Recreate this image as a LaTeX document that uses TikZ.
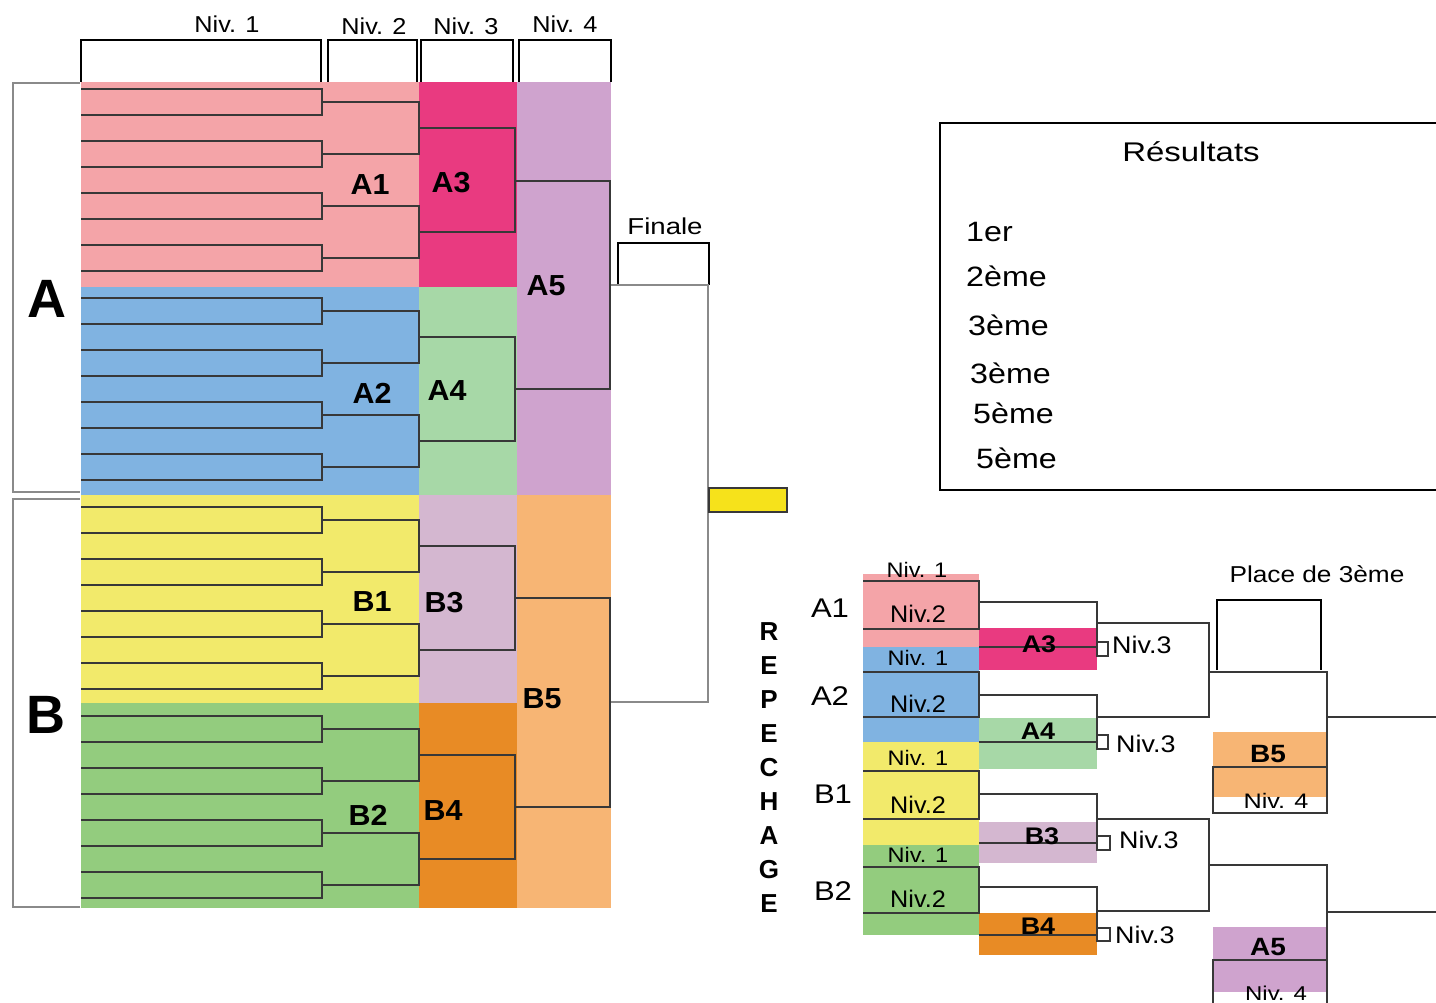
\documentclass[tikz,border=0pt]{standalone}
\usepackage{fontspec}
\setmainfont{Liberation Sans}
\usepackage{graphicx}
\definecolor{cpink}{HTML}{F4A4A8}
\definecolor{cblue}{HTML}{80B3E1}
\definecolor{cyel}{HTML}{F2EA6B}
\definecolor{cgreen}{HTML}{93CC7E}
\definecolor{cmag}{HTML}{E93A80}
\definecolor{clgreen}{HTML}{A7D8A7}
\definecolor{cmauve}{HTML}{D4B7D0}
\definecolor{corange}{HTML}{E88B25}
\definecolor{clilac}{HTML}{CFA3CE}
\definecolor{clorange}{HTML}{F7B574}
\definecolor{cbox}{HTML}{F6E21B}
\definecolor{ink}{HTML}{383838}
\definecolor{gline}{HTML}{8A8A8A}
\newcommand\sx[2]{\scalebox{#1}[1]{#2}}
\newcommand\fs[1]{\fontsize{#1}{#1}\selectfont}
\begin{document}
\begin{tikzpicture}[x=1pt,y=-1pt,
  brk/.style={draw=ink,line width=2pt},
  gbrk/.style={draw=gline,line width=2.2pt},
  bbox/.style={draw=black,line width=2pt},
  txt/.style={inner sep=0pt,anchor=base},
  hdr/.style={txt,font=\fs{23}},
  mlab/.style={txt,font=\fs{29}\bfseries},
  big/.style={txt,font=\fs{54}\bfseries},
  rn1/.style={txt,font=\fs{21}},
  rn2/.style={txt,font=\fs{24}},
  rgrp/.style={txt,font=\fs{27}},
  rlab/.style={txt,font=\fs{24}\bfseries},
  rn3/.style={txt,anchor=base west,font=\fs{24}},
  rlet/.style={txt,font=\fs{26}\bfseries},
  res/.style={txt,anchor=base west,font=\fs{28}}
]
\useasboundingbox (0,0) rectangle (1436,1003);
\fill[white] (0,0) rectangle (1436,1003);

% ---------------- main bracket: coloured areas
\fill[cpink] (81,82) rectangle (419,287);
\fill[cblue] (81,287) rectangle (419,495);
\fill[cyel] (81,495) rectangle (419,703);
\fill[cgreen] (81,703) rectangle (419,908);
\fill[cmag] (419,82) rectangle (517,287);
\fill[clgreen] (419,287) rectangle (517,495);
\fill[cmauve] (419,495) rectangle (517,703);
\fill[corange] (419,703) rectangle (517,908);
\fill[clilac] (517,82) rectangle (611,495);
\fill[clorange] (517,495) rectangle (611,908);

% bracket lines
\foreach \s in {89,298,507,716} {
  \foreach \j in {0,1,2,3} {
    \pgfmathsetmacro\ya{\s+52*\j}
    \pgfmathsetmacro\yb{\ya+26}
    \draw[brk] (81,\ya) -- (322,\ya) -- (322,\yb) -- (81,\yb);
  }
  \foreach \j in {0,1} {
    \pgfmathsetmacro\ya{\s+13+104*\j}
    \pgfmathsetmacro\yb{\ya+52}
    \draw[brk] (322,\ya) -- (419,\ya) -- (419,\yb) -- (322,\yb);
  }
  \pgfmathsetmacro\ya{\s+39}
  \pgfmathsetmacro\yb{\s+143}
  \draw[brk] (419,\ya) -- (515,\ya) -- (515,\yb) -- (419,\yb);
}
\draw[brk] (515,181) -- (610,181) -- (610,389) -- (515,389);
\draw[brk] (515,598) -- (610,598) -- (610,807) -- (515,807);

% header boxes
\draw[bbox] (81,82) -- (81,40) -- (321,40) -- (321,82);
\draw[bbox] (328,82) -- (328,40) -- (417,40) -- (417,82);
\draw[bbox] (421,82) -- (421,40) -- (513,40) -- (513,82);
\draw[bbox] (519,82) -- (519,40) -- (611,40) -- (611,82);
\node[hdr] (h1) at (227,33) {\sx{1.1}{Niv. 1}};
\node[hdr] (h2) at (374,35) {\sx{1.1}{Niv. 2}};
\node[hdr] (h3) at (466,35) {\sx{1.1}{Niv. 3}};
\node[hdr] (h4) at (565,33) {\sx{1.1}{Niv. 4}};

% group brackets A, B
\draw[gbrk] (80,83) -- (13,83) -- (13,492) -- (80,492);
\draw[gbrk] (80,499) -- (13,499) -- (13,907) -- (80,907);
\node[big] (gA) at (47,317) {A};
\node[big] (gB) at (46,733) {B};

% labels
\node[mlab] (lA1) at (370,195) {\sx{1.05}{A1}};
\node[mlab] (lA3) at (451,193) {\sx{1.05}{A3}};
\node[mlab] (lA2) at (372,403) {\sx{1.05}{A2}};
\node[mlab] (lA4) at (447,400) {\sx{1.05}{A4}};
\node[mlab] (lA5) at (546,295) {\sx{1.05}{A5}};
\node[mlab] (lB1) at (372,611) {\sx{1.05}{B1}};
\node[mlab] (lB3) at (444,612) {\sx{1.05}{B3}};
\node[mlab] (lB2) at (368,825) {\sx{1.05}{B2}};
\node[mlab] (lB4) at (443,820) {\sx{1.05}{B4}};
\node[mlab] (lB5) at (542,708) {\sx{1.05}{B5}};

% finale
\draw[bbox] (618,285) -- (618,243) -- (709,243) -- (709,285);
\node[hdr] (fin) at (665,235) {\sx{1.2}{Finale}};
\draw[gbrk] (611,285) -- (708,285) -- (708,702) -- (611,702);
\draw[draw=ink,line width=2pt,fill=cbox] (709,488) rectangle (787,512);

% ---------------- results box
\draw[bbox] (1436,123) -- (940,123) -- (940,490) -- (1436,490);
\node[txt,font=\fs{27}] (rt) at (1191,162) {\sx{1.22}{Résultats}};
\node[res] (r1) at (966,242) {\sx{1.15}{1er}};
\node[res] (r2) at (966,287) {\sx{1.15}{2ème}};
\node[res] (r3) at (968,335) {\sx{1.15}{3ème}};
\node[res] (r4) at (970,383) {\sx{1.15}{3ème}};
\node[res] (r5) at (973,423) {\sx{1.15}{5ème}};
\node[res] (r6) at (976,468) {\sx{1.15}{5ème}};

% ---------------- repechage
\fill[cpink] (863,574) rectangle (979,647);
\fill[cblue] (863,647) rectangle (979,742);
\fill[cyel] (863,742) rectangle (979,845);
\fill[cgreen] (863,845) rectangle (979,935);
\fill[cmag] (979,628) rectangle (1097,670);
\fill[clgreen] (979,718) rectangle (1097,769);
\fill[cmauve] (979,822) rectangle (1097,863);
\fill[corange] (979,913) rectangle (1097,955);
\fill[clorange] (1213,732) rectangle (1326,797);
\fill[clilac] (1213,927) rectangle (1326,992);

% Niv.2 boxes
\draw[brk] (863,581) -- (979,581) -- (979,629) -- (863,629);
\draw[brk] (863,672) -- (979,672) -- (979,717) -- (863,717);
\draw[brk] (863,771) -- (979,771) -- (979,819) -- (863,819);
\draw[brk] (863,867) -- (979,867) -- (979,913) -- (863,913);
% Niv.3 brackets
\draw[brk] (979,602) -- (1097,602) -- (1097,647) -- (979,647);
\draw[brk] (979,695) -- (1097,695) -- (1097,742) -- (979,742);
\draw[brk] (979,794) -- (1097,794) -- (1097,843) -- (979,843);
\draw[brk] (979,887) -- (1097,887) -- (1097,935) -- (979,935);
\draw[brk] (1097,642) rectangle (1108,656);
\draw[brk] (1097,735) rectangle (1108,749);
\draw[brk] (1097,836) rectangle (1110,850);
\draw[brk] (1097,928) rectangle (1110,941);
% next round
\draw[brk] (1097,623) -- (1209,623) -- (1209,717) -- (1097,717);
\draw[brk] (1097,819) -- (1209,819) -- (1209,911) -- (1097,911);
\draw[brk] (1209,672) -- (1327,672) -- (1327,813) -- (1213,813) -- (1213,767) -- (1327,767);
\draw[brk] (1209,865) -- (1327,865) -- (1327,1010);
\draw[brk] (1213,1010) -- (1213,960) -- (1327,960);
\draw[brk] (1327,717) -- (1440,717);
\draw[brk] (1327,912) -- (1440,912);
\draw[bbox] (1217,670) -- (1217,600) -- (1321,600) -- (1321,670);

% repechage texts
\node[rn1] (p1) at (917,577) {\sx{1.12}{Niv. 1}};
\node[rn2] (p2) at (918,622) {\sx{1.05}{Niv.2}};
\node[rn1] (p3) at (918,665) {\sx{1.12}{Niv. 1}};
\node[rn2] (p4) at (918,712) {\sx{1.05}{Niv.2}};
\node[rn1] (p5) at (918,765) {\sx{1.12}{Niv. 1}};
\node[rn2] (p6) at (918,813) {\sx{1.05}{Niv.2}};
\node[rn1] (p7) at (918,862) {\sx{1.12}{Niv. 1}};
\node[rn2] (p8) at (918,907) {\sx{1.05}{Niv.2}};

\node[rgrp] (gA1) at (830,617) {\sx{1.15}{A1}};
\node[rgrp] (gA2) at (830,705) {\sx{1.15}{A2}};
\node[rgrp] (gB1) at (833,803) {\sx{1.15}{B1}};
\node[rgrp] (gB2) at (833,900) {\sx{1.15}{B2}};

\node[rlab] (qA3) at (1039,652) {\sx{1.12}{A3}};
\node[rlab] (qA4) at (1038,739) {\sx{1.12}{A4}};
\node[rlab] (qB3) at (1042,844) {\sx{1.12}{B3}};
\node[rlab] (qB4) at (1038,934) {\sx{1.12}{B4}};

\node[rn3] (n3a) at (1112,653) {\sx{1.12}{Niv.3}};
\node[rn3] (n3b) at (1116,752) {\sx{1.12}{Niv.3}};
\node[rn3] (n3c) at (1119,848) {\sx{1.12}{Niv.3}};
\node[rn3] (n3d) at (1115,943) {\sx{1.12}{Niv.3}};

\node[txt,font=\fs{25}\bfseries] (qB5) at (1268,762) {\sx{1.12}{B5}};
\node[txt,font=\fs{25}\bfseries] (qA5) at (1268,955) {\sx{1.12}{A5}};
\node[txt,font=\fs{21}] (n4a) at (1276,808) {\sx{1.2}{Niv. 4}};
\node[txt,font=\fs{20}] (n4b) at (1276,1000) {\sx{1.2}{Niv. 4}};
\node[txt,font=\fs{23}] (pl3) at (1317,582) {\sx{1.14}{Place de 3ème}};

\foreach \L [count=\i from 0] in {R,E,P,E,C,H,A,G,E} {
  \node[rlet] (rep\i) at (769,640+34*\i) {\L};
}
\end{tikzpicture}
\end{document}
